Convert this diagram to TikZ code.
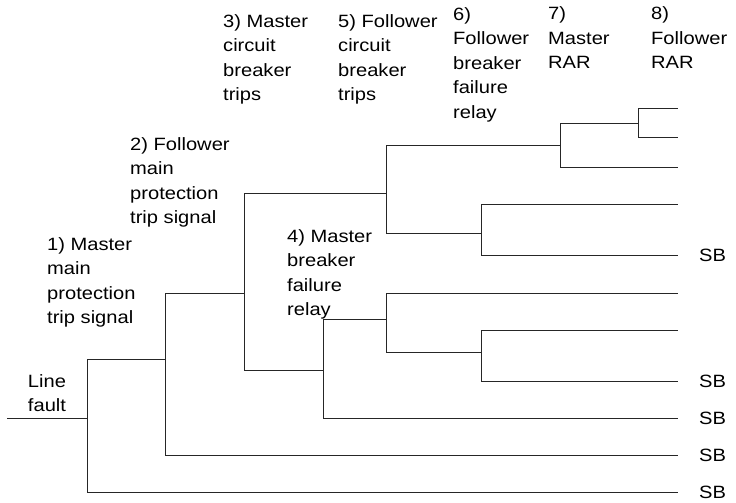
\documentclass[tikz,border=0pt]{standalone}
\usepackage{fontspec}
\setmainfont{Liberation Sans}[FakeStretch=1.13]
\begin{document}
\begin{tikzpicture}[x=1pt,y=-1pt,
  branch/.style={draw=black!85,line width=1pt},
  lbl/.style={inner sep=0pt,align=left,anchor=base west,font=\fontsize{17.8}{24.5}\selectfont},
  sb/.style={inner sep=0pt,anchor=base west,font=\fontsize{17.8}{24.5}\selectfont}]
\useasboundingbox (0,0) rectangle (736,503);
% coordinates
\coordinate (start) at (7,418);
\coordinate (J1in) at (87,418);  \coordinate (J1t) at (87,359);  \coordinate (J1b) at (87,492);
\coordinate (J2in) at (165,359); \coordinate (J2t) at (165,293); \coordinate (J2b) at (165,455);
\coordinate (J3in) at (244,293); \coordinate (J3t) at (244,193); \coordinate (J3b) at (244,370);
\coordinate (J4in) at (386,193); \coordinate (J4t) at (386,145); \coordinate (J4b) at (386,233);
\coordinate (J6in) at (560,145); \coordinate (J6t) at (560,123); \coordinate (J6b) at (560,167);
\coordinate (J8in) at (638,123); \coordinate (J8t) at (638,108); \coordinate (J8b) at (638,137);
\coordinate (J7in) at (481,233); \coordinate (J7t) at (481,204); \coordinate (J7b) at (481,255);
\coordinate (J5in) at (323,370); \coordinate (J5t) at (323,319); \coordinate (J5b) at (323,418);
\coordinate (J9in) at (386,319); \coordinate (J9t) at (386,293); \coordinate (J9b) at (386,352);
\coordinate (J10in) at (481,352); \coordinate (J10t) at (481,330); \coordinate (J10b) at (481,381);
% end points
\coordinate (E1) at (678,108);
\coordinate (E2) at (678,137);
\coordinate (E3) at (678,167);
\coordinate (E4) at (678,204);
\coordinate (E5) at (678,255);
\coordinate (E6) at (678,293);
\coordinate (E7) at (678,330);
\coordinate (E8) at (678,381);
\coordinate (E9) at (678,418);
\coordinate (E10) at (678,455);
\coordinate (E11) at (678,492);
% tree
\draw[branch] (start) -- (J1in);
\draw[branch] (J1t) -- (J1b);
\draw[branch] (J1t) -- (J2in);
\draw[branch] (J1b) -- (E11);
\draw[branch] (J2t) -- (J2b);
\draw[branch] (J2t) -- (J3in);
\draw[branch] (J2b) -- (E10);
\draw[branch] (J3t) -- (J3b);
\draw[branch] (J3t) -- (J4in);
\draw[branch] (J3b) -- (J5in);
\draw[branch] (J4t) -- (J4b);
\draw[branch] (J4t) -- (J6in);
\draw[branch] (J4b) -- (J7in);
\draw[branch] (J6t) -- (J6b);
\draw[branch] (J6t) -- (J8in);
\draw[branch] (J6b) -- (E3);
\draw[branch] (J8t) -- (J8b);
\draw[branch] (J8t) -- (E1);
\draw[branch] (J8b) -- (E2);
\draw[branch] (J7t) -- (J7b);
\draw[branch] (J7t) -- (E4);
\draw[branch] (J7b) -- (E5);
\draw[branch] (J5t) -- (J5b);
\draw[branch] (J5t) -- (J9in);
\draw[branch] (J5b) -- (E9);
\draw[branch] (J9t) -- (J9b);
\draw[branch] (J9t) -- (E6);
\draw[branch] (J9b) -- (J10in);
\draw[branch] (J10t) -- (J10b);
\draw[branch] (J10t) -- (E7);
\draw[branch] (J10b) -- (E8);
% labels (anchor = baseline of last line)
\node[lbl,align=center,anchor=base] (lf) at (47,411.5) {Line\\fault};
\node[lbl] (l1) at (47,323.5) {1) Master\\main\\protection\\trip signal};
\node[lbl] (l2) at (130,223.5) {2) Follower\\main\\protection\\trip signal};
\node[lbl] (l3) at (223,100.5) {3) Master\\circuit\\breaker\\trips};
\node[lbl] (l4) at (287,315.5) {4) Master\\breaker\\failure\\relay};
\node[lbl] (l5) at (338,100.5) {5) Follower\\circuit\\breaker\\trips};
\node[lbl] (l6) at (453,118) {6)\\Follower\\breaker\\failure\\relay};
\node[lbl] (l7) at (548,69) {7)\\Master\\RAR};
\node[lbl] (l8) at (651,69) {8)\\Follower\\RAR};
\node[sb] (sb5) at (699,261.8) {SB};
\node[sb] (sb8) at (699,387.8) {SB};
\node[sb] (sb9) at (699,424.8) {SB};
\node[sb] (sb10) at (699,461.8) {SB};
\node[sb] (sb11) at (699,498.8) {SB};
\end{tikzpicture}
\end{document}
